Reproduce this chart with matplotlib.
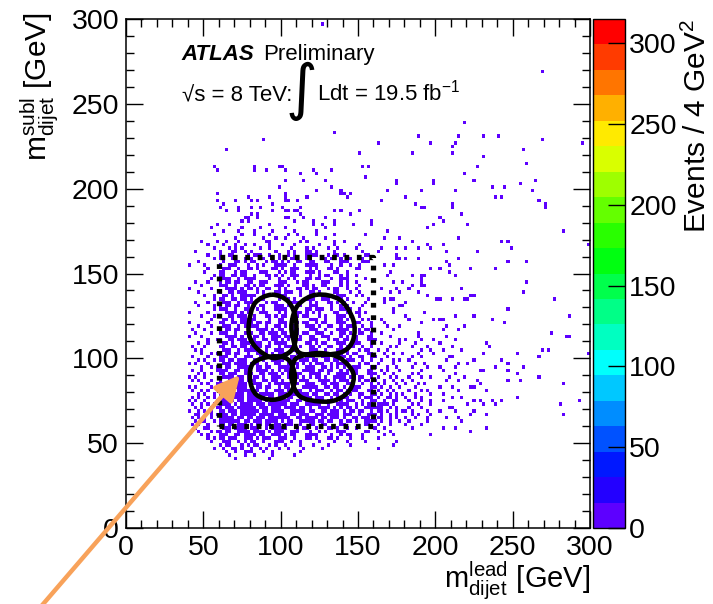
#!/usr/bin/env python3
# m_dijet subleading vs leading, ATLAS 2D histogram with signal regions
import numpy as np
import matplotlib
matplotlib.use("Agg")
import matplotlib.pyplot as plt
from matplotlib.colors import ListedColormap, BoundaryNorm, hsv_to_rgb
from matplotlib.path import Path
from matplotlib.patches import PathPatch, FancyArrowPatch
from matplotlib.ticker import MultipleLocator

# occupied 2 GeV x 2 GeV bins, dense part: one string per row (y = lower bin edge)
# blocks of 10 chars, block b starts at x = 40 + 20*b, char p -> x + 2*p
row_y = list(range(208, 37, -2))
cell_rows = [
    ".......... .......... .......... ......#... .#........ .......... .......... .......... .....",  # 208
    ".......... .......... .......... .......... .......... .......#.. .......... .......... .....",
    ".......... .......... .......... .#.....#.. ....#..... .......... .......#.. .........# .....",
    ".......... .......... .......... .......... .......... .......... .......#.. .........# .....",
    ".......... .......... .........# .......... ......#... .......... .......... .......... .....",  # 200
    ".......... .......... .......... .......... .#.......# .......... ....#..... .....#.... .....",
    ".........# .......... .......... .#........ .........# #.#....... .......... .......... .....",
    ".......... .........# ......#... .#......#. .......... .#........ .......... #......... .....",
    ".........# .....#.... #.#....... .##..#.... .......... .......... ..#....... .......... .....",
    ".......... .#........ .......#.. .......... .......... .......... .......... ...#...... .....",  # 190
    ".......... #.....#... #..#...... #.....#... .......... .......... .......... .....##... .....",
    ".......... ..#...#... .......#.. .##.##.... .......#.# .....#.... .......... .......... .....",
    ".......... .......... #.#....... ......#... .......... ..#....... .......... .......... .....",
    ".......... ........## ..#....... .##....#.. ....#..... .......... .......... .......... .#...",
    ".......... .......#.# .......... ....#..... #......#.. .........# .......... .......... ..#..",  # 180
    ".........# ...#...... ......#... .......... #..#...#.. ...#.....# .......... .........# .....",
    ".......#.. .......#.. ...#...... .#........ ....#..... .......... .......... .......#.. .....",
    ".......... .#....#... .#.....#.. ....#..... .#........ .......... ....#..... .......... .....",
    "........#. .......#.. .#....#... ..#..#.... .#.....#.. .......#.. .......... .......... .....",
    ".......... .....#.... ....#...#. .#.....#.. ....#..... .......... ...#....#. .......... .....",  # 170
    "....#....# ..#...#... .....##... ......#.#. .......#.. #......... .......... ..#....... .....",
    "......#... .#...#..#. .#....#... #...#..... ..#....#.. .....#.... .......... .......#.. ..#..",
    "........#. ...#.#.#.. ...#..#... ...#....#. #....#..#. ....#..... ..#....#.. #...#...#. .....",
    "..#....... #...##..#. #.......#. ..#.#...## .#.....#.. ......#... .#........ .......... ...#.",
    "......#... #..##....# .###..#..# ..#.#...## ##...#.##. #......##. .......#.. .......... .....",  # 160
    "........#. ##..#...## #..##....# .#.##...## ....#.#..# .##...#... .......##. #...#..... .....",
    "...#...... .#...##.#. ##...#.##. #.#..##..# #...##...# ##....###. .......... .......... ...#.",
    "#....#.... #..###...# ..#.#...## ##..#...## ##....#..# ..#..#.... ...#..#... .......... ....#",
    "......#... .###..#..# #.#....##. #..###...# .#...##.#. ....##.... .......... ........#. .#...",
    ".....#.... ##...#.##. ...###...# .#.##...## #.#....##. .#........ .....#.... .......... ....#",  # 150
    "........#. ##..##.##. .#...##.#. #..###...# ..#.##...# .#..#..... ....#..... ..#..##... .....",
    ".......#.. .###..#.## ##....#..# ..#.#...## .##...#..# ##.....#.. .......... .....#.... .....",
    "..#...#... #.##.##..# #..###...# ##...#.##. ...###...# .#..#..... ......#..# .....#.... .....",
    "....#..... ###..#..## .#.##...## #.#....##. #..##....# .#...#.... .......... ..#..##... .....",
    "#......#.. ..####.#.# #.#..##..# .#...##.#. ##...#.##. .#..#..... ..#....#.. .#........ .....",  # 140
    "...#...... #..##.###. ..#.#...## .###..#..# #.#....##. ..#..#.... .....#..#. ....#..... .....",
    ".....#..#. .##.#..### ##..#...## ##....#..# .#.##...## #...#.#... .......... .......#.. .....",
    "........#. ##..##.##. #..##....# ..#.#...## #..###...# .#......#. ...#.##... .......... ##...",
    "..#...#... .###..#.## ##...#.##. ...###...# .#...##.#. #..#...#.. ...#...... #......... .....",
    "...#....#. #.##.##..# .#.##...## #.#..##..# ##....#..# .#....#... ........## .......... .....",  # 130
    "........#. ###..#..## ..#.#...## ##..#...## .###..#..# #.#..#.... ......#... .......... .....",
    "#.....#... ..####.#.# #..###...# .#...##.#. #.#....##. .#..##.#.. ......#... ......#... .....",
    "....#...#. #..##.###. .#...##.#. ##...#.##. ..#.#...## #.#..#.... .......... #......... .....",
    ".......#.. .##.#..### ##....#..# #..##....# ##..#...## .#.#..#.#. ..#....... .#.......# .##..",
    "#.....#... ##..##.##. #.##.##..# ##...#.##. .#.##...## #..###...# ...#...... .....#.... .....",  # 120
    "...#...#.. .###..#.## ###..#..## .#.##...## #.#..##..# .###..#..# ....#...#. .......... ...#.",
    ".#...#.... #.##.##..# ..####.#.# #..###...# ##..#...## ##...#.##. ......#... .......... ..#..",
    "..#....#.. ###..#..## #..##.###. ##...#.##. .###..#..# #.#..##..# ..#....... ....#..... .....",
    "#...#..... ..####.#.# .##.#..### .###..#..# #..###...# .#.##...## .....#.... ....#..... ...#.",
    "......#..# #..##.###. ##..##.##. #.#..##..# ##...#.##. ##..#...## #.......#. #....#...# .....",  # 110
    "...#..#... .##.#..### .###..#.## ##..#...## .#.##...## #..###...# ..#.....#. ...#...... .#...",
    ".#...#.... ##..##.##. #.##.##..# .###..#..# #.#..##..# .###..#..# .....#.#.. ..#....#.. .....",
    "..#.#..... .###..#.## ###..#..## #..###...# ##..#...## ##...#.##. .#..#..... .....#..#. ..#..",
    "....#..#.# #.##.##..# ..####.#.# ##...#.##. .###..#..# .#.##...## ...#..#..# ....#....# .....",
    ".#....#... ###..#..## #..##.###. .#.##...## #..###...# #.#..##..# #...#..... ..#..#.... ....#",  # 100
    "...#.#..#. ##.##.###. .##.#..### #..##.###. ##..##.##. .###..#..# ..#...#.#. .#........ ...#.",
    "#.#...#... .###.####. ###..#..## ..####.#.# .###..#.## ##...#.##. .#....#... ...#..#... .....",
    "....#..#.# #.##..#### #.##.##..# ###..#..## #..##.#.#. #..###...# #...#..#.. ..#....#.. .#...",
    ".#..#....# ###..##.## ..####.#.# .##.#..### #.##.##..# .#.##...## ..#.#...#. .....#.... ..#..",
    "...#.#.#.. ##.###..## #..##.###. #.##.##..# ###..#..## ##..#...## #..#..#... ..#.#..... .....",  # 90
    "#.#..#.... .####.##.# .##.#..### ..####.#.# .##.#..### #.#..##..# .#...#.#.. .#...#..#. ....#",
    ".#.#...#.. #..#####.# ##..##.##. #..##.###. ..####.#.# ##...#.##. #..#..#..# ..#....... ...#.",
    "....#.#..# ##.##.###. .###..#.## ###..#..## #..##.###. .###..#..# .#.#...#.. #...#.#... .....",
    "#.#....#.# .###.####. #.##.##..# .##.#..### ##..##.##. #..###...# #.#..#..#. ...#...... .#...",
    ".#..#.#... #.##..#### ###..#..## #.##.##..# .###..#.## .#.##...## .#..#.#... .#...#.#.. .....",  # 80
    "...#.#..#. ###.####.# ##.#####.# ##.##.###. ##..##.##. #.#..##..# #.#..#.#.# ...#....#. ..#..",
    ".#.#..#.#. ##.#####.# #####.##.# #.##..#### .###..#.## ##...#.### .#..##.#.. #..#.#.... .....",
    "#.#..#...# #####.##.# ####.#.### ###..##.## #.##.##..# .###..#..# #..#..##.. .#...#..#. ..#..",
    ".#..#.#.#. ####.#.### #.###.#### ##.###..## ###..#..## ##..#.#.## .####.#... ..#.#...#. .....",
    "..#.#..#.# #.###.#### ##.###.### .####.##.# ..####.#.# .##.#..### ###..#.#.. .#...#.... ....#",  # 70
    "#..#.#.#.. ##.###.### ###.##.### #..#####.# #..##.###. #.##.##..# .##.#..#.# #.#....#.. .#...",
    "..##...#.# ###.##.### ##.#####.# ##.##.###. .###.####. ###..#..## #.#..#.#.. ..#.#...#. .....",
    ".#.#.#.#.. #####.##.# #.###.#### ###..##.## ##.##.###. #..##.###. .##..#.#.. #..#...#.. ...#.",
    "..#.##..#. #######.## .###.####. #.##..#### #.##.##..# .##.#..### #.#..#..#. .#.....#.. .....",
    ".#.#..#... ##.##.###. #.##.##.## .###..#..# #..##....# #......##. .#...#.... #....#.... .....",  # 60
    "..#..##... .###.####. ###..#.### ##...#.##. .#...##.#. .#..#..... #..#...... ..#....... ..#..",
    "...#...#.# #.##..#### .####.#.## #..###...# ..#.#...## #......##. .#...#.... .......... .....",
    "....#.#... ###..##.## ##.##..### .#.##...## ##....#..# .##...#... ...#..#... ........#. .....",
    "......#.#. ##.###..## #.#.###..# ##..#...## .#...##.#. ..#...#... .#........ .......... .....",
    ".......#.. .###..#.#. ##..#...## #..#..#... ..#....#.. .#.....#.. .......#.. .......... .....",  # 50
    ".......... #.##...#.# .##...#.#. .#....#... #....#.... ..#....... ......#... .......... .....",
    "........#. .#..##.#.. #..#.#...# ..#....#.. ...#...... .......... .#........ .......... .....",
    ".......... ..#..#..## #...#..#.. ......#... .......... .......... .......... .......... .....",
    ".......... ...#....#. .#.....#.. ....#..... .......... .......... .......... .......... .....",
    ".......... .....#.... ......#... .......... .......... .......... .......... .......... .....",  # 40
    ".......... .......... .......... .......... .......... .......... .......... .......... .....",
]

# sparse bins outside the dense block (lower bin edges in GeV)
sparse_x = [88, 64, 56, 58, 82, 82, 90, 98, 100, 102, 120, 134, 162, 150, 188, 196, 184,
            210, 210, 132, 152, 156, 268, 218, 214, 230, 240, 212, 268, 294, 256, 230,
            258, 226, 126,
            218, 224, 264, 254, 236, 244, 262, 238, 242, 266, 270, 270, 210, 210, 220,
            282, 242, 246, 248, 298, 226, 214, 246, 258, 222, 238, 212, 258, 216, 256,
            222, 224, 218, 220, 210, 276, 246, 212, 224, 236, 244, 286,
            274, 284, 286, 298, 252, 266, 268, 272, 232, 234, 230, 224, 214, 220, 242,
            238, 246, 246, 230, 228, 252, 254, 256, 266, 282, 218, 212, 224, 222, 226,
            228, 232, 214, 216, 224, 220, 228, 230, 236, 238, 242, 246, 252, 280, 282,
            292, 212, 214, 222, 224, 232, 222, 232, 210, 210,
            212, 214, 210, 216, 212, 210, 214, 216, 212, 210, 218, 214, 216, 212]
sparse_y = [228, 222, 212, 210, 212, 210, 210, 212, 212, 210, 210, 232, 226, 220, 230, 226, 220,
            224, 220, 210, 212, 212, 268, 238, 230, 230, 230, 226, 228, 226, 222, 218,
            214, 212, 296,
            208, 204, 204, 202, 200, 200, 198, 194, 194, 192, 190, 188, 190, 188, 178,
            174, 168, 168, 164, 166, 162, 158, 156, 156, 152, 152, 148, 144, 140, 138,
            136, 136, 134, 134, 134, 134, 128, 124, 124, 122, 120, 124,
            114, 112, 112, 102, 102, 100, 104, 104, 108, 106, 102, 98, 96, 96, 98,
            94, 96, 92, 92, 92, 90, 86, 94, 88, 84, 88, 90, 82, 82, 86,
            84, 80, 80, 76, 74, 72, 74, 72, 74, 72, 74, 86, 76, 72, 66,
            74, 68, 64, 66, 68, 66, 56, 58, 82, 100,
            110, 116, 106, 104, 94, 76, 86, 62, 58, 70, 118, 170, 184, 198]

# signal region outlines, points read around each contour (GeV)
ul_x = [94.2, 104.9, 109.9, 109.2, 104.9, 95.2, 85.5, 80.2, 79.5, 83.4]
ul_y = [137.5, 133.5, 122.7, 109.0, 103.1, 100.2, 105.1, 112.0, 120.8, 132.6]
ur_x = [123.3, 138.3, 146.9, 146.9, 140.5, 127.5, 112.5, 108.2, 107.1, 111.4]
ur_y = [137.5, 134.5, 122.7, 111.0, 104.1, 102.1, 103.1, 111.0, 120.8, 131.6]
ll_x = [94.2, 104.9, 109.2, 106.0, 95.2, 84.4, 80.2, 82.3]
ll_y = [101.1, 99.2, 89.3, 79.5, 75.6, 78.5, 87.4, 97.2]
lr_x = [112.5, 125.4, 138.3, 146.9, 144.8, 136.2, 125.4, 112.5, 107.1, 108.2]
lr_y = [101.1, 103.1, 100.2, 91.3, 81.5, 75.6, 74.6, 77.6, 87.4, 97.2]
box_x = [60, 160, 160, 60, 60]
box_y = [60, 60, 160, 160, 60]

cbar_ticks = [0, 50, 100, 150, 200, 250, 300]
z_max = 315

plt.rcParams["font.family"] = ["Liberation Sans", "DejaVu Sans"]
plt.rcParams["mathtext.fontset"] = "custom"
plt.rcParams["mathtext.rm"] = "Liberation Sans"
plt.rcParams["mathtext.it"] = "Liberation Sans:italic"
plt.rcParams["mathtext.default"] = "regular"

counts = np.zeros((150, 150))
for y, row in zip(row_y, cell_rows):
    for b, block in enumerate(row.split()):
        for p, ch in enumerate(block):
            if ch == "#":
                counts[y // 2, (40 + 20 * b + 2 * p) // 2] += 1
for x, y in zip(sparse_x, sparse_y):
    counts[y // 2, x // 2] += 1

edges = np.arange(0, 301, 2)
hues = np.linspace(262, 0, 20) / 360.0
palette = hsv_to_rgb(np.column_stack([hues, np.ones(20), np.ones(20)]))
cmap = ListedColormap(palette)
norm = BoundaryNorm(np.linspace(0, z_max, 21), 20)

fig = plt.figure(figsize=(7.13, 6.04), dpi=100)
ax = fig.add_axes([0.1767, 0.1258, 0.6508, 0.8427])
cax = fig.add_axes([0.8317, 0.1258, 0.0449, 0.8427])

mesh = ax.pcolormesh(edges, edges, np.ma.masked_equal(counts, 0), cmap=cmap, norm=norm,
                     edgecolors="none", antialiased=False)

def smooth_closed(xs, ys):
    pts = np.column_stack([xs, ys])
    n = len(pts)
    verts = [pts[0]]
    codes = [Path.MOVETO]
    for i in range(n):
        p0, p1, p2, p3 = pts[i - 1], pts[i], pts[(i + 1) % n], pts[(i + 2) % n]
        verts += [p1 + (p2 - p0) / 6, p2 - (p3 - p1) / 6, p2]
        codes += [Path.CURVE4] * 3
    return Path(verts, codes)

for cx, cy in [(ul_x, ul_y), (ur_x, ur_y), (ll_x, ll_y), (lr_x, lr_y)]:
    ax.add_patch(PathPatch(smooth_closed(cx, cy), fill=False, ec="black", lw=3.3, zorder=5))

ax.plot(box_x, box_y, color="black", lw=3.8, linestyle=(0, (0.9, 1.45)),
        dash_capstyle="butt", zorder=4)

ax.set_xlim(0, 300)
ax.set_ylim(0, 300)
ax.xaxis.set_major_locator(MultipleLocator(50))
ax.yaxis.set_major_locator(MultipleLocator(50))
ax.xaxis.set_minor_locator(MultipleLocator(10))
ax.yaxis.set_minor_locator(MultipleLocator(10))
ax.tick_params(which="both", direction="in", top=True, right=True, width=1.0, labelsize=20.5)
ax.tick_params(which="major", length=12, pad=5)
ax.tick_params(which="minor", length=5.5)
for s in ax.spines.values():
    s.set_linewidth(1.1)

cbar = fig.colorbar(mesh, cax=cax, ticks=cbar_ticks)
cbar.outline.set_linewidth(1.0)
cax.tick_params(direction="in", length=12, width=1.0, labelsize=20.5, right=True, left=False, pad=3)
cax.minorticks_off()

fig.text(697 / 713, 1 - 19 / 604, r"Events / 4 GeV$^{2}$", rotation=90, ha="center", va="top", fontsize=21.5)
fig.text(590 / 713, 16 / 604, r"m$^{lead}_{dijet}$ [GeV]", ha="right", va="baseline", fontsize=21)
fig.text(40 / 713, 1 - 12 / 604, r"m$^{subl}_{dijet}$ [GeV]", rotation=90, ha="center", va="top", fontsize=21.5)

fig.text(181 / 713, 1 - 60 / 604, "ATLAS", fontsize=16, weight="bold", style="italic", va="baseline")
fig.text(263 / 713, 1 - 60 / 604, "Preliminary", fontsize=16, va="baseline")
fig.text(182 / 713, 1 - 101 / 604, "√s = 8 TeV:", fontsize=16, va="baseline")
fig.text(301 / 713, 1 - 91 / 604, "∫", fontsize=44, family="DejaVu Sans", ha="center", va="center")
fig.text(317 / 713, 1 - 101 / 604, r"Ldt = 19.5 fb$^{-1}$", fontsize=16, va="baseline")

arrow = FancyArrowPatch((38 / 713, -6 / 604), (240 / 713, 229 / 604), transform=fig.transFigure,
                        arrowstyle="-|>,head_length=0.5,head_width=0.25", mutation_scale=30,
                        color="#F8A25A", lw=3.2, shrinkA=0, shrinkB=0, zorder=10, clip_on=False)
fig.add_artist(arrow)

fig.savefig("out.png", dpi=100)
